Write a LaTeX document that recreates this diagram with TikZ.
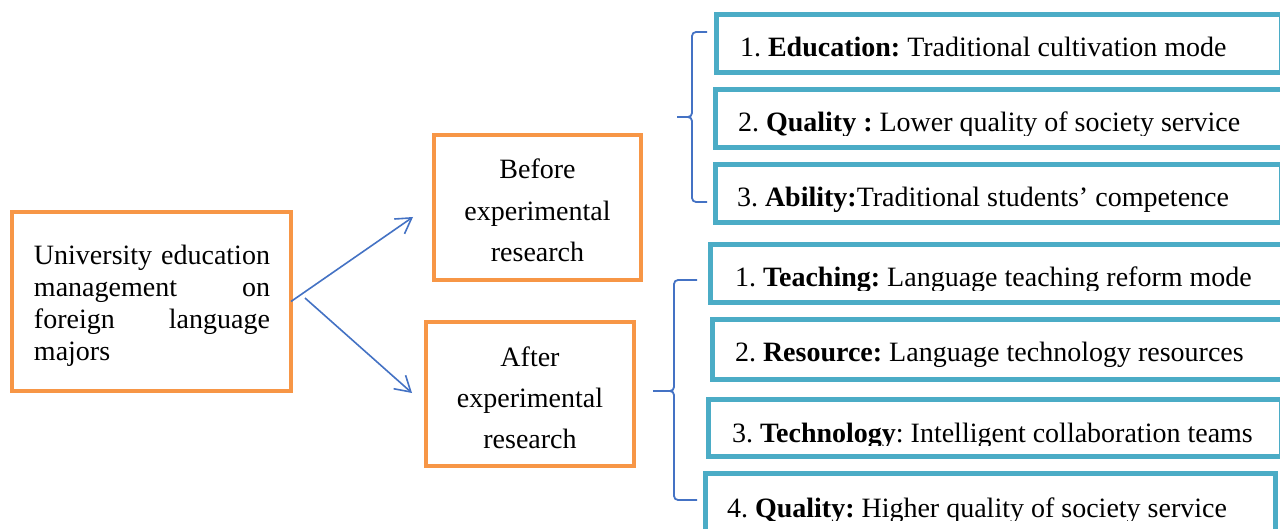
\documentclass[tikz,border=0pt]{standalone}
\usepackage{fontspec}
\setmainfont{Liberation Serif}
\usetikzlibrary{arrows.meta}
\definecolor{orng}{HTML}{F79646}
\definecolor{tealb}{HTML}{4BACC6}
\definecolor{arrblue}{HTML}{4472C4}
\tikzset{
  obox/.style={draw=orng, line width=4pt, inner sep=0pt, outer sep=0pt},
  tbox/.style={draw=tealb, line width=5pt, inner sep=0pt, outer sep=0pt},
  txt/.style={inner sep=0pt, outer sep=0pt, font=\fontsize{28}{32}\selectfont\frenchspacing},
  conn/.style={draw=arrblue, line width=1.6pt, -{Straight Barb[length=15pt,width=18pt]}},
  bracepath/.style={draw=arrblue, line width=1.8pt, rounded corners=4pt},
}
\begin{document}
\frenchspacing
\begin{tikzpicture}[x=1pt,y=1pt]
\useasboundingbox[fill=white] (0,0) rectangle (1280,-529);

% left box
\node[obox, minimum width=279pt, minimum height=179pt] (uni) at (151.5,-301.5) {};
\node[txt, anchor=base west] (unitxt) at (34,-265) {\parbox[t]{236pt}{University\hfill education\\management\hfill on\\foreign\hfill language\\majors}};

% before / after boxes
\node[obox, line width=4.5pt, minimum width=207pt, minimum height=145pt] (before) at (537.5,-207.5) {};
\node[txt, anchor=base] (beforetxt) at (537.5,-179) {\parbox[t]{200pt}{\centering\fontsize{28}{41.5}\selectfont Before\\experimental\\research}};
\node[obox, line width=4.5pt, minimum width=208pt, minimum height=144pt] (after) at (530,-394) {};
\node[txt, anchor=base] (aftertxt) at (530,-366.5) {\parbox[t]{200pt}{\centering\fontsize{28}{41}\selectfont After\\experimental\\research}};

% arrows
\coordinate (s2) at (305,-298);
\coordinate (e1) at (413,-217);
\coordinate (e2) at (412,-393);
\draw[conn] (uni.east) -- (e1);
\draw[conn] (s2) -- (e2);

% upper list
\node[tbox, minimum width=564.5pt, minimum height=58pt] (b1) at (998.75,-43.5) {};
\node[txt, anchor=base west] (b1t) at (740,-57) {1. \textbf{Education:} Traditional cultivation mode};
\node[tbox, minimum width=568.5pt, minimum height=58pt] (b2) at (999.75,-118.5) {};
\begin{scope}
\clip (700,-90) rectangle (1280,-135.5);
\node[txt, anchor=base west] (b2t) at (738,-132) {2. \textbf{Quality :} Lower quality of society service};
\end{scope}
\node[tbox, minimum width=565.5pt, minimum height=58pt] (b3) at (998.25,-193.5) {};
\node[txt, anchor=base west] (b3t) at (737,-207) {3. \textbf{Ability:}Traditional students’ competence};

% lower list
\node[tbox, minimum width=573.5pt, minimum height=58pt] (b4) at (997.25,-273.5) {};
\begin{scope}
\clip (700,-246) rectangle (1280,-290.5);
\node[txt, anchor=base west] (b4t) at (735,-287) {1. \textbf{Teaching:} Language teaching reform mode};
\end{scope}
\node[tbox, minimum width=571.5pt, minimum height=60pt] (b5) at (998.25,-349.5) {};
\node[txt, anchor=base west] (b5t) at (735,-362) {2. \textbf{Resource:} Language technology resources};
\node[tbox, minimum width=572.5pt, minimum height=57pt] (b6) at (994.75,-428) {};
\begin{scope}
\clip (700,-401) rectangle (1280,-445.5);
\node[txt, anchor=base west] (b6t) at (732,-442) {3. \textbf{Technology}: Intelligent collaboration teams};
\end{scope}
\node[tbox, minimum width=570pt, minimum height=71.5pt] (b7) at (990.5,-509.25) {};
\begin{scope}
\clip (700,-475) rectangle (1280,-520.5);
\node[txt, anchor=base west] (b7t) at (727,-517) {4. \textbf{Quality:} Higher quality of society service};
\end{scope}

% braces
\coordinate (u1) at (707,-32);
\coordinate (um) at (677,-117);
\coordinate (u2) at (707,-202);
\draw[bracepath] (u1) -- (692,-32) -- (692,-117) -- (um);
\draw[bracepath] (um) -- (692,-117) -- (692,-202) -- (u2);
\coordinate (l1) at (697,-280);
\coordinate (lm) at (653,-391);
\coordinate (l2) at (697,-500);
\draw[bracepath] (l1) -- (674,-280) -- (674,-391) -- (lm);
\draw[bracepath] (lm) -- (674,-391) -- (674,-500) -- (l2);
\end{tikzpicture}
\end{document}
